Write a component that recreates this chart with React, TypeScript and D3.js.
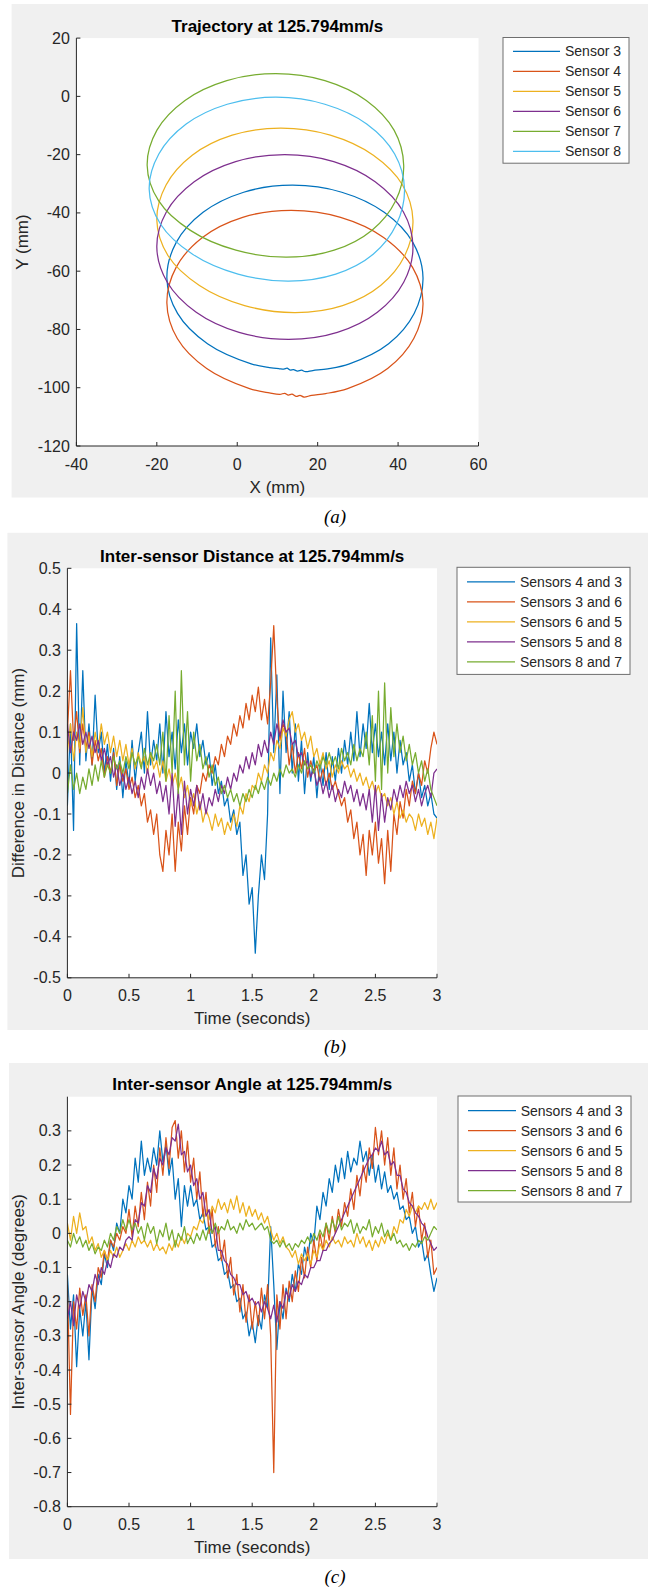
import React from 'react';
import * as d3 from 'd3';

const FONT = '"Liberation Sans", Arial, Helvetica, sans-serif';
const INK = '#262626';
const FIGURE_BG = '#f0f0f0';
const COLORS = ['#0072BD', '#D95319', '#EDB120', '#7E2F8E', '#77AC30', '#4DBEEE'];
const LINE_W = 1.25;

// ---------- (a) trajectories, mm, one closed loop per sensor (clockwise from the top) ----------
const sensor3X = [13.7, 26.0, 36.55, 43.7, 46.2, 44.0, 37.65, 27.9, 22.5, 18.8, 17.0, 16.0, 15.0, 14.0, 13.1, 12.4, 11.6, 10.5, 8.0, 3.47, -7.4, -14.85, -17.5, -15.2, -8.5, 1.6];
const sensor3Y = [-30.5, -32.9, -39.8, -50.2, -62.35, -74.5, -84.9, -91.8, -93.5, -94.1, -94.5, -94.0, -94.3, -93.8, -93.9, -93.3, -93.6, -93.5, -93.1, -91.8, -84.9, -74.5, -62.35, -50.2, -39.8, -32.9];
const sensor4X = [13.4, 25.7, 36.4, 43.6, 46.2, 43.9, 37.4, 27.45, 22.0, 18.5, 16.6, 15.6, 14.7, 13.6, 12.7, 11.8, 10.6, 8.0, 3.05, -7.6, -14.9, -17.5, -15.2, -8.65, 1.35];
const sensor4Y = [-39.1, -41.5, -48.4, -58.7, -70.9, -83.1, -93.4, -100.3, -102.0, -102.6, -103.2, -102.6, -103.0, -102.2, -102.5, -101.9, -102.3, -101.8, -100.3, -93.4, -83.1, -70.9, -58.7, -48.4, -41.5];
const sensor5X = [10.8, 23.15, 33.85, 41.1, 43.7, 41.65, 35.65, 26.2, 14.4, 1.83, -9.4, -17.2, -20.0, -17.7, -11.2, -1.25];
const sensor5Y = [-10.9, -13.3, -20.2, -30.4, -42.55, -54.7, -64.9, -71.8, -74.2, -71.8, -64.9, -54.7, -42.55, -30.4, -20.2, -13.3];
const sensor6X = [11.8, 24.0, 34.3, 41.3, 43.7, 41.4, 34.85, 24.9, 12.8, 0.46, -10.2, -17.4, -20.0, -17.6, -10.7, -0.4];
const sensor6Y = [-20.0, -22.4, -29.3, -39.6, -51.7, -63.8, -74.1, -81.0, -83.4, -81.0, -74.1, -63.8, -51.7, -39.6, -29.3, -22.4];
const sensor7X = [9.6, 21.8, 32.1, 39.0, 41.4, 39.4, 33.45, 24.1, 12.3, -0.33, -11.65, -19.57, -22.4, -19.97, -13.0, -2.6];
const sensor7Y = [7.8, 5.4, -1.4, -11.6, -23.7, -35.8, -46.0, -52.8, -55.2, -52.8, -46.0, -35.8, -23.7, -11.6, -1.4, 5.4];
const sensor8X = [9.6, 21.8, 32.2, 39.15, 41.6, 39.6, 33.8, 24.5, 12.8, 0.2, -11.1, -19.06, -21.9, -19.5, -12.7, -2.5];
const sensor8Y = [-0.3, -2.7, -9.5, -19.8, -31.85, -43.9, -54.2, -61.0, -63.4, -61.0, -54.2, -43.9, -31.85, -19.8, -9.5, -2.7];

const sensorNames = ['Sensor 3', 'Sensor 4', 'Sensor 5', 'Sensor 6', 'Sensor 7', 'Sensor 8'];
const trajX = [sensor3X, sensor4X, sensor5X, sensor6X, sensor7X, sensor8X];
const trajY = [sensor3Y, sensor4Y, sensor5Y, sensor6Y, sensor7Y, sensor8Y];

const xTicksMm = [-40, -20, 0, 20, 40, 60];
const yTicksMm = [20, 0, -20, -40, -60, -80, -100, -120];

// ---------- (b), (c) sampled every 25 ms from 0 to 3 s ----------
const TIME_STEP = 0.025;
const pairNames = ['Sensors 4 and 3', 'Sensors 3 and 6', 'Sensors 6 and 5', 'Sensors 5 and 8', 'Sensors 8 and 7'];
const timeTicks = [0, 0.5, 1, 1.5, 2, 2.5, 3];

// inter-sensor distance difference, mm
const dist43 = [
  -0.08, 0.12, -0.14, 0.365, 0.02, 0.25, 0.03, 0.12, 0.02, 0.19,
  0.05, 0.1, 0.0, 0.07, -0.02, 0.06, -0.04, 0.04, -0.06, 0.03,
  -0.03, 0.08, -0.02, 0.05, 0.1, 0.0, 0.15, 0.02, 0.08, 0.03,
  0.12, 0.0, 0.15, 0.04, 0.1, 0.01, 0.13, 0.05, 0.12, 0.02,
  0.1, 0.06, 0.12, 0.04, 0.08, 0.02, 0.05, -0.03, 0.02, -0.05,
  -0.02, -0.08, -0.06, -0.12, -0.09, -0.15, -0.12, -0.25, -0.2, -0.32,
  -0.28, -0.44, -0.3, -0.2, -0.26, -0.1, 0.33, 0.05, 0.24, -0.05,
  0.2, 0.05, 0.15, 0.0, 0.12, -0.02, 0.08, -0.05, 0.05, -0.02,
  0.04, -0.06, 0.03, -0.03, 0.05, -0.04, 0.04, -0.02, 0.06, 0.0,
  0.08, 0.02, 0.1, 0.03, 0.15, 0.04, 0.12, 0.06, 0.17, 0.05,
  0.12, 0.04, 0.1, 0.02, 0.12, 0.03, 0.1, 0.0, 0.08, 0.02,
  0.05, -0.02, 0.02, -0.05, 0.0, -0.06, -0.03, -0.08, -0.05, -0.1,
  -0.11,
];
const dist36 = [
  0.1, 0.25, 0.08, 0.15, 0.05, 0.12, 0.06, 0.1, 0.02, 0.08,
  0.03, 0.06, -0.01, 0.04, 0.0, 0.05, -0.03, 0.02, -0.02, 0.01,
  -0.04, -0.01, -0.06, -0.03, -0.08, -0.05, -0.12, -0.09, -0.15, -0.1,
  -0.2, -0.24, -0.14, -0.2, -0.1, -0.24, -0.12, -0.19, -0.08, -0.15,
  -0.06, -0.1, -0.03, -0.05, 0.0, -0.02, 0.02, 0.0, 0.04, 0.02,
  0.07, 0.04, 0.09, 0.07, 0.12, 0.09, 0.14, 0.11, 0.17, 0.13,
  0.19, 0.15, 0.21, 0.13, 0.18, 0.12, 0.22, 0.36, 0.18, 0.08,
  0.12, 0.1, 0.02, 0.07, 0.0, 0.05, 0.01, 0.06, -0.01, 0.03,
  0.0, 0.02, -0.02, 0.01, -0.03, 0.0, -0.04, -0.02, -0.05, -0.08,
  -0.06, -0.12, -0.09, -0.16, -0.12, -0.2, -0.15, -0.25, -0.14, -0.2,
  -0.12, -0.22, -0.16, -0.27, -0.14, -0.24, -0.1, -0.15, -0.07, -0.11,
  -0.04, -0.08, -0.02, -0.05, 0.0, -0.03, 0.03, 0.0, 0.06, 0.1,
  0.07,
];
const dist65 = [
  0.05, 0.12, 0.03, 0.1, 0.06, 0.16, 0.05, 0.09, 0.04, 0.1,
  0.06, 0.12, 0.07, 0.1, 0.05, 0.09, 0.04, 0.08, 0.03, 0.07,
  0.02, 0.06, 0.01, 0.05, 0.02, 0.04, 0.0, 0.05, 0.01, 0.03,
  -0.01, 0.03, -0.02, 0.01, -0.03, 0.0, -0.04, -0.01, -0.06, -0.03,
  -0.08, -0.05, -0.1, -0.07, -0.12, -0.09, -0.11, -0.14, -0.1, -0.13,
  -0.11, -0.15, -0.12, -0.14, -0.1, -0.13, -0.08, -0.1, -0.05, -0.07,
  -0.03, -0.04, 0.0, -0.02, 0.02, 0.0, 0.05, 0.03, 0.08, 0.06,
  0.11, 0.09, 0.13, 0.15, 0.1, 0.12, 0.08, 0.1, 0.06, 0.09,
  0.04, 0.06, 0.02, 0.05, 0.01, 0.03, -0.01, 0.02, 0.0, 0.03,
  0.01, 0.02, -0.01, 0.01, -0.02, 0.0, -0.03, -0.01, -0.04, -0.02,
  -0.05, -0.03, -0.06, -0.05, -0.08, -0.06, -0.1, -0.07, -0.11, -0.09,
  -0.12, -0.1, -0.11, -0.14, -0.1, -0.13, -0.11, -0.15, -0.12, -0.16,
  -0.11,
];
const dist58 = [
  0.12, 0.05, 0.1, 0.08, 0.12, 0.07, 0.1, 0.06, 0.09, 0.05,
  0.08, 0.03, 0.06, 0.02, 0.04, -0.01, 0.02, -0.03, 0.0, -0.04,
  -0.01, -0.05, -0.02, -0.06, -0.01, -0.04, 0.01, -0.03, 0.0, -0.05,
  -0.02, -0.07, -0.03, -0.1, 0.0, -0.13, -0.04, -0.15, -0.02, -0.1,
  -0.04, -0.08, -0.03, -0.09, -0.05, -0.1, -0.06, -0.08, -0.04, -0.07,
  -0.03, -0.05, -0.01, -0.04, 0.0, -0.02, 0.02, 0.0, 0.04, 0.01,
  0.05, 0.02, 0.07, 0.04, 0.08, 0.05, 0.1, 0.07, 0.12, 0.09,
  0.13, 0.1, 0.11, 0.07, 0.08, 0.04, 0.05, 0.02, 0.03, -0.01,
  0.01, -0.03, -0.01, -0.05, -0.02, -0.06, -0.03, -0.07, -0.04, -0.06,
  -0.02, -0.05, -0.03, -0.07, -0.04, -0.08, -0.05, -0.09, -0.04, -0.12,
  -0.03, -0.14, -0.05, -0.12, -0.06, -0.09, -0.04, -0.07, -0.03, -0.06,
  -0.02, -0.05, -0.03, -0.07, -0.04, -0.08, -0.05, -0.03, -0.06, 0.0,
  0.01,
];
const dist87 = [
  -0.05, 0.02, -0.04, 0.0, -0.05, -0.01, -0.04, 0.01, -0.03, 0.02,
  -0.02, 0.03, -0.01, 0.02, 0.0, 0.04, 0.01, 0.03, 0.0, 0.04,
  0.01, 0.05, 0.02, 0.04, 0.01, 0.06, 0.02, 0.05, 0.03, 0.07,
  0.02, 0.1, -0.02, 0.14, 0.0, 0.2, -0.05, 0.25, 0.02, 0.15,
  -0.02, 0.1, 0.03, 0.07, 0.01, 0.04, -0.01, 0.02, -0.03, -0.01,
  -0.05, -0.03, -0.06, -0.04, -0.07, -0.05, -0.08, -0.05, -0.07, -0.04,
  -0.06, -0.03, -0.05, -0.02, -0.04, -0.01, -0.03, 0.0, -0.02, 0.01,
  -0.01, 0.02, 0.0, 0.01, -0.01, 0.02, 0.0, 0.03, 0.01, 0.02,
  0.0, 0.03, 0.01, 0.04, 0.02, 0.05, 0.02, 0.04, 0.01, 0.06,
  0.03, 0.05, 0.02, 0.07, 0.03, 0.06, 0.04, 0.1, 0.02, 0.14,
  -0.02, 0.2, -0.04, 0.22, 0.0, 0.16, 0.04, 0.12, 0.05, 0.09,
  0.03, 0.07, 0.02, 0.05, 0.0, 0.03, -0.02, 0.01, -0.04, -0.06,
  -0.08,
];

// inter-sensor angle, degrees
const angle43 = [
  -0.12, -0.28, -0.18, -0.39, -0.22, -0.3, -0.2, -0.37, -0.16, -0.22,
  -0.12, -0.15, -0.06, -0.1, -0.02, -0.05, 0.03, 0.0, 0.1, 0.06,
  0.14, 0.1, 0.22, 0.15, 0.27, 0.17, 0.22, 0.18, 0.25, 0.2,
  0.3, 0.21, 0.26, 0.17, 0.22, 0.1, 0.16, 0.02, 0.14, 0.08,
  0.14, 0.08, 0.1, 0.04, 0.06, 0.01, 0.02, -0.04, -0.03, -0.08,
  -0.07, -0.12, -0.11, -0.16, -0.15, -0.2, -0.19, -0.25, -0.23, -0.3,
  -0.26, -0.32, -0.24, -0.28, -0.18, -0.22, 0.02, -0.15, -0.34, -0.2,
  -0.25, -0.16, -0.2, -0.12, -0.17, -0.09, -0.12, -0.04, -0.08, 0.0,
  -0.03, 0.08, 0.04, 0.12, 0.08, 0.16, 0.12, 0.2, 0.15, 0.22,
  0.16, 0.24, 0.18, 0.22, 0.2, 0.27, 0.21, 0.24, 0.17, 0.23,
  0.15, 0.2, 0.13, 0.18, 0.12, 0.14, 0.1, 0.12, 0.07, 0.08,
  0.04, 0.05, 0.0, 0.02, -0.04, -0.02, -0.08, -0.06, -0.12, -0.17,
  -0.13,
];
const angle36 = [
  -0.15, -0.53, -0.2, -0.28, -0.16, -0.24, -0.18, -0.3, -0.15, -0.2,
  -0.1, -0.13, -0.05, -0.08, -0.02, -0.04, 0.0, -0.02, 0.02, 0.0,
  0.07, -0.01, 0.08, 0.02, 0.12, 0.04, 0.15, 0.08, 0.2, 0.12,
  0.25, 0.17, 0.28, 0.19, 0.31, 0.33, 0.22, 0.3, 0.18, 0.27,
  0.15, 0.22, 0.1, 0.18, 0.05, 0.12, 0.0, 0.07, -0.04, 0.02,
  -0.08, -0.02, -0.13, -0.07, -0.18, -0.12, -0.23, -0.15, -0.26, -0.18,
  -0.28, -0.2, -0.27, -0.16, -0.25, -0.15, -0.3, -0.7, -0.18, -0.28,
  -0.15, -0.25, -0.14, -0.2, -0.11, -0.17, -0.07, -0.13, -0.04, -0.1,
  -0.02, -0.08, 0.0, -0.05, 0.03, -0.02, 0.05, 0.0, 0.07, 0.02,
  0.09, 0.05, 0.13, 0.07, 0.17, 0.11, 0.2, 0.15, 0.25, 0.19,
  0.31, 0.23, 0.3, 0.2, 0.28, 0.17, 0.25, 0.13, 0.2, 0.1,
  0.16, 0.06, 0.12, 0.02, 0.08, -0.02, 0.03, -0.07, -0.02, -0.12,
  -0.1,
];
const angle65 = [
  0.03, -0.02, 0.05, 0.0, 0.06, 0.01, 0.02, -0.03, -0.01, -0.05,
  -0.03, -0.07, -0.05, -0.08, -0.05, -0.07, -0.04, -0.07, -0.05, -0.03,
  -0.05, -0.02, -0.04, -0.01, -0.03, -0.02, -0.04, -0.02, -0.05, -0.03,
  -0.05, -0.04, -0.06, -0.03, -0.05, -0.02, -0.04, -0.01, -0.03, 0.0,
  -0.01, 0.02, 0.01, 0.04, 0.03, 0.07, 0.04, 0.08, 0.06, 0.1,
  0.07, 0.09, 0.06, 0.1, 0.07, 0.11, 0.06, 0.09, 0.05, 0.08,
  0.05, 0.07, 0.04, 0.06, 0.03, 0.05, 0.01, -0.02, 0.0, -0.03,
  -0.01, -0.04, -0.05, -0.07, -0.05, -0.09, -0.06, -0.08, -0.06, -0.09,
  -0.05, -0.07, -0.03, -0.05, -0.02, -0.04, -0.01, -0.03, -0.02, -0.04,
  -0.01, -0.03, -0.02, -0.04, 0.0, -0.03, -0.01, -0.04, -0.02, -0.05,
  -0.02, -0.04, -0.01, -0.03, 0.0, -0.02, 0.02, 0.0, 0.04, 0.03,
  0.07, 0.05, 0.08, 0.06, 0.08, 0.07, 0.09, 0.07, 0.1, 0.07,
  0.09,
];
const angle58 = [
  -0.25, -0.2, -0.27, -0.18, -0.22, -0.17, -0.2, -0.15, -0.17, -0.12,
  -0.15, -0.1, -0.12, -0.08, -0.1, -0.06, -0.07, -0.04, -0.05, -0.02,
  -0.01, -0.02, 0.04, 0.03, 0.09, 0.08, 0.14, 0.12, 0.19, 0.16,
  0.22, 0.2, 0.25, 0.23, 0.28, 0.27, 0.32, 0.23, 0.24, 0.18,
  0.2, 0.14, 0.16, 0.1, 0.12, 0.05, 0.07, 0.0, 0.02, -0.05,
  -0.05, -0.08, -0.09, -0.12, -0.13, -0.15, -0.15, -0.18, -0.17, -0.2,
  -0.19, -0.21, -0.2, -0.23, -0.2, -0.22, -0.25, -0.21, -0.26, -0.2,
  -0.22, -0.17, -0.19, -0.15, -0.17, -0.14, -0.15, -0.12, -0.13, -0.1,
  -0.1, -0.08, -0.08, -0.05, -0.05, -0.03, -0.02, 0.0, 0.02, 0.04,
  0.06, 0.08, 0.1, 0.12, 0.14, 0.16, 0.18, 0.2, 0.22, 0.23,
  0.25, 0.24, 0.27, 0.23, 0.24, 0.2, 0.21, 0.17, 0.17, 0.13,
  0.12, 0.09, 0.08, 0.06, 0.05, 0.03, 0.02, -0.01, -0.03, -0.05,
  -0.04,
];
const angle87 = [
  -0.02, -0.04, 0.0, -0.03, -0.01, -0.04, -0.02, -0.05, -0.03, -0.06,
  -0.04, -0.05, -0.02, -0.04, 0.0, -0.02, 0.02, 0.0, 0.04, 0.01,
  0.04, 0.01, 0.03, 0.0, 0.02, -0.02, 0.03, 0.0, 0.02, -0.03,
  0.01, -0.01, 0.03, -0.02, 0.01, -0.04, 0.0, -0.02, 0.02, -0.03,
  -0.01, -0.03, 0.0, -0.02, 0.01, -0.02, 0.02, 0.0, 0.03, 0.0,
  0.02, 0.01, 0.04, 0.01, 0.02, 0.0, 0.03, 0.01, 0.04, 0.02,
  0.03, 0.01, 0.02, 0.03, 0.01, 0.02, -0.02, -0.03, -0.02, -0.04,
  -0.02, -0.04, -0.03, -0.05, -0.03, -0.04, -0.02, -0.03, -0.01, -0.03,
  0.0, -0.02, 0.01, -0.01, 0.03, 0.0, 0.04, 0.01, 0.05, 0.01,
  0.03, 0.02, 0.04, 0.0, 0.03, 0.0, 0.02, 0.01, 0.04, -0.01,
  0.02, 0.0, 0.03, -0.01, 0.01, -0.02, 0.0, -0.03, -0.02, -0.04,
  -0.03, -0.05, -0.03, -0.04, -0.02, -0.03, -0.01, -0.02, 0.0, 0.02,
  0.01,
];

const distTicks = [0.5, 0.4, 0.3, 0.2, 0.1, 0, -0.1, -0.2, -0.3, -0.4, -0.5];
const angleTicks = [0.3, 0.2, 0.1, 0, -0.1, -0.2, -0.3, -0.4, -0.5, -0.6, -0.7, -0.8];

type Frame = { left: number; right: number; top: number; bottom: number };
type Scale = d3.ScaleLinear<number, number>;

function AxesChrome(props: {
  frame: Frame; sx: Scale; sy: Scale; xTicks: number[]; yTicks: number[];
  title: string; xLabel: string; yLabel: string; yLabelX: number;
}) {
  const { frame, sx, sy, xTicks, yTicks, title, xLabel, yLabel, yLabelX } = props;
  const cx = (frame.left + frame.right) / 2;
  const cy = (frame.top + frame.bottom) / 2;
  const tick = 4;
  return (
    <g>
      <line x1={frame.left} x2={frame.right} y1={frame.bottom} y2={frame.bottom} stroke={INK} strokeWidth={1} />
      <line x1={frame.left} x2={frame.left} y1={frame.top} y2={frame.bottom} stroke={INK} strokeWidth={1} />
      {xTicks.map((t) => (
        <g key={'x' + t}>
          <line x1={sx(t)} x2={sx(t)} y1={frame.bottom} y2={frame.bottom - tick} stroke={INK} strokeWidth={1} />
          <text x={sx(t)} y={frame.bottom + 18} textAnchor="middle" dominantBaseline="central" fontSize={16} fill={INK}>{String(t)}</text>
        </g>
      ))}
      {yTicks.map((t) => (
        <g key={'y' + t}>
          <line x1={frame.left} x2={frame.left + tick} y1={sy(t)} y2={sy(t)} stroke={INK} strokeWidth={1} />
          <text x={frame.left - 6.5} y={sy(t)} textAnchor="end" dominantBaseline="central" fontSize={16} fill={INK}>{String(t)}</text>
        </g>
      ))}
      <text x={cx} y={frame.top - 12} textAnchor="middle" dominantBaseline="central" fontSize={17} fontWeight="bold" fill="#000">{title}</text>
      <text x={cx} y={frame.bottom + 41} textAnchor="middle" dominantBaseline="central" fontSize={17} fill={INK}>{xLabel}</text>
      <text transform={`translate(${yLabelX},${cy}) rotate(-90)`} textAnchor="middle" dominantBaseline="central" fontSize={17} fill={INK}>{yLabel}</text>
    </g>
  );
}

function Legend(props: { x0: number; y0: number; x1: number; y1: number; rowY: number; lineX0: number; lineX1: number; textX: number; names: string[] }) {
  const { x0, y0, x1, y1, rowY, lineX0, lineX1, textX, names } = props;
  return (
    <g>
      <rect x={x0} y={y0} width={x1 - x0} height={y1 - y0} fill="#fff" stroke="#6e6e6e" strokeWidth={1} />
      {names.map((n, i) => (
        <g key={n}>
          <line x1={lineX0} x2={lineX1} y1={rowY + i * 20} y2={rowY + i * 20} stroke={COLORS[i]} strokeWidth={LINE_W} />
          <text x={textX} y={rowY + i * 20} dominantBaseline="central" fontSize={14} fill={INK}>{n}</text>
        </g>
      ))}
    </g>
  );
}

function Caption({ text, x, y }: { text: string; x: number; y: number }) {
  return (
    <text x={x} y={y} textAnchor="middle" dominantBaseline="central" fontSize={19} fontStyle="italic" fontFamily='"Liberation Serif", "Times New Roman", serif' fill="#000">{text}</text>
  );
}

function TimePanel(props: { frame: Frame; yDomain: [number, number]; yTicks: number[]; series: number[][]; title: string; yLabel: string; clipId: string }) {
  const { frame, yDomain, yTicks, series, title, yLabel, clipId } = props;
  const sx = d3.scaleLinear().domain([0, 3]).range([frame.left, frame.right]);
  const sy = d3.scaleLinear().domain(yDomain).range([frame.bottom, frame.top]);
  const line = d3.line<number>().x((_, i) => sx(i * TIME_STEP)).y((v) => sy(v));
  return (
    <g>
      <clipPath id={clipId}>
        <rect x={frame.left} y={frame.top} width={frame.right - frame.left} height={frame.bottom - frame.top} />
      </clipPath>
      <rect x={frame.left} y={frame.top} width={frame.right - frame.left} height={frame.bottom - frame.top} fill="#fff" />
      <g clipPath={`url(#${clipId})`}>
        {series.map((s, i) => (
          <path key={i} d={line(s) || ''} fill="none" stroke={COLORS[i]} strokeWidth={LINE_W} strokeLinejoin="round" />
        ))}
      </g>
      <AxesChrome frame={frame} sx={sx} sy={sy} xTicks={timeTicks} yTicks={yTicks} title={title} xLabel="Time (seconds)" yLabel={yLabel} yLabelX={18.6} />
    </g>
  );
}

export default function App() {
  const frameA: Frame = { left: 76.4, right: 478.5, top: 38.1, bottom: 446 };
  const frameB: Frame = { left: 67.4, right: 437, top: 568.3, bottom: 977.8 };
  const frameC: Frame = { left: 67.4, right: 437, top: 1096.7, bottom: 1506.7 };

  const sxA = d3.scaleLinear().domain([-40, 60]).range([frameA.left, frameA.right]);
  const syA = d3.scaleLinear().domain([-120, 20]).range([frameA.bottom, frameA.top]);
  const loop = d3.line<[number, number]>()
    .x((d) => sxA(d[0]))
    .y((d) => syA(d[1]))
    .curve(d3.curveCatmullRomClosed.alpha(0.5));

  return (
    <svg width={648} height={1592} style={{ position: 'absolute', left: 0, top: 0, background: '#fff' }} fontFamily={FONT}>
      <rect x={0} y={0} width={648} height={1592} fill="#fff" />

      {/* (a) trajectories */}
      <rect x={11.6} y={4} width={648 - 11.6} height={497.5 - 4} fill={FIGURE_BG} />
      <rect x={frameA.left} y={frameA.top} width={frameA.right - frameA.left} height={frameA.bottom - frameA.top} fill="#fff" />
      {trajX.map((xs, i) => {
        const pts = xs.map((x, j) => [x, trajY[i][j]] as [number, number]);
        return <path key={sensorNames[i]} d={loop(pts) || ''} fill="none" stroke={COLORS[i]} strokeWidth={LINE_W} />;
      })}
      <AxesChrome frame={frameA} sx={sxA} sy={syA} xTicks={xTicksMm} yTicks={yTicksMm}
        title="Trajectory at 125.794mm/s" xLabel="X (mm)" yLabel="Y (mm)" yLabelX={22.7} />
      <Legend x0={503} y0={37.5} x1={629} y1={163.2} rowY={51.4} lineX0={513} lineX1={560} textX={565} names={sensorNames} />
      <Caption text="(a)" x={335} y={516} />

      {/* (b) distance */}
      <rect x={7.4} y={532.8} width={648 - 7.4} height={1030 - 532.8} fill={FIGURE_BG} />
      <TimePanel frame={frameB} yDomain={[-0.5, 0.5]} yTicks={distTicks}
        series={[dist43, dist36, dist65, dist58, dist87]}
        title="Inter-sensor Distance at 125.794mm/s" yLabel="Difference in Distance (mm)" clipId="clipB" />
      <Legend x0={457} y0={567.3} x1={630} y1={674.4} rowY={581.8} lineX0={467} lineX1={515} textX={520} names={pairNames} />
      <Caption text="(b)" x={335} y={1046} />

      {/* (c) angle */}
      <rect x={9} y={1063} width={648 - 9} height={1559 - 1063} fill={FIGURE_BG} />
      <TimePanel frame={frameC} yDomain={[-0.8, 0.4]} yTicks={angleTicks}
        series={[angle43, angle36, angle65, angle58, angle87]}
        title="Inter-sensor Angle at 125.794mm/s" yLabel="Inter-sensor Angle (degrees)" clipId="clipC" />
      <Legend x0={458} y0={1096} x1={631} y1={1202} rowY={1110.6} lineX0={468} lineX1={516} textX={520.7} names={pairNames} />
      <Caption text="(c)" x={335} y={1576} />
    </svg>
  );
}
